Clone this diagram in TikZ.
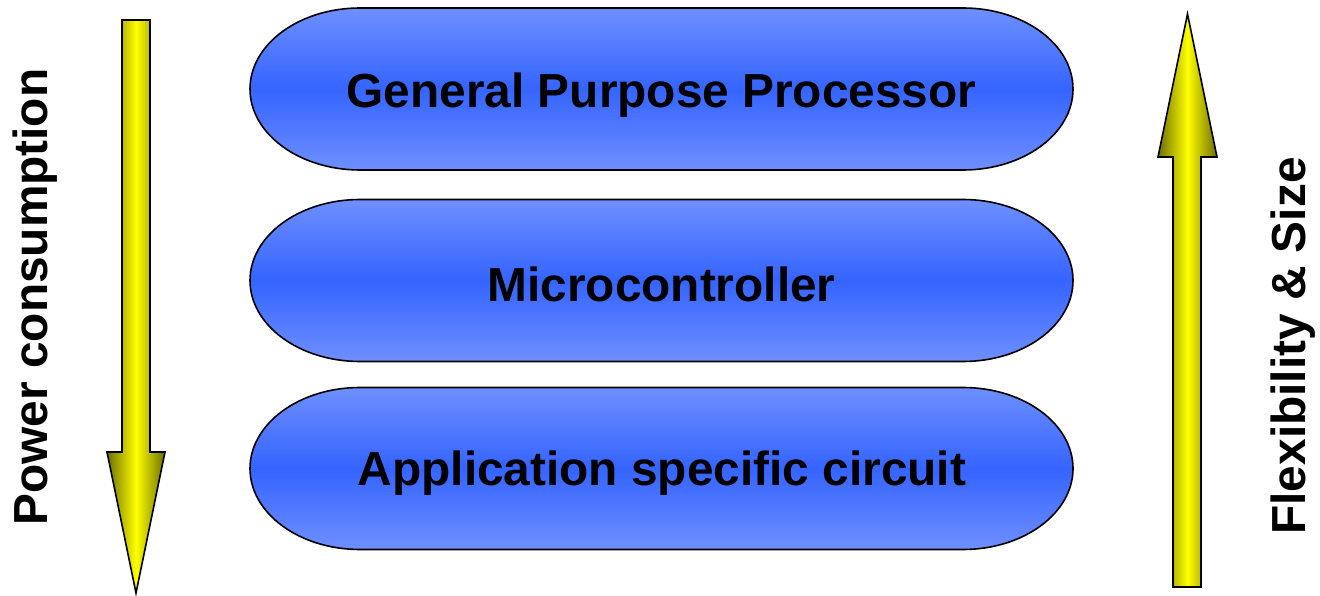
\documentclass[tikz,border=0pt]{standalone}
\usepackage{fontspec}
\setmainfont{Liberation Sans}
\definecolor{blueedge}{HTML}{6E8FFF}
\definecolor{bluemid}{HTML}{3564FF}
\definecolor{olivedark}{HTML}{6E6E00}
\definecolor{yel}{HTML}{FFFF00}
\tikzset{
  stadium/.style={draw=black, line width=1.6pt, top color=blueedge, bottom color=blueedge, middle color=bluemid},
  yarrow/.style={draw=black, line width=1.6pt, line join=miter, left color=olivedark, right color=olivedark, middle color=yel},
  lbl/.style={font=\fontsize{47.8}{50}\selectfont\bfseries, inner sep=0pt},
}
\newcommand{\stadiumpath}[2]{% #1 center y, #2 name
  \path[stadium] (360,#1+81) -- (963,#1+81)
    arc[start angle=90, end angle=-90, x radius=110, y radius=81]
    -- (360,#1-81)
    arc[start angle=270, end angle=90, x radius=110, y radius=81] -- cycle;
}
\begin{document}
\begin{tikzpicture}[x=1pt,y=1pt]
\useasboundingbox (0,0) rectangle (1320,595);
% stadiums
\stadiumpath{506}{gpp}
\stadiumpath{314.5}{mc}
\stadiumpath{126.5}{asc}
\node[lbl] (gpp) at (661.5,500) {General Purpose Processor};
\node[lbl] (mc) at (661.5,311) {Microcontroller};
\node[lbl] (asc) at (662,121.5) {Application specific circuit};
% left arrow (down)
\path[yarrow] (122,575) -- (150,575) -- (150,143) -- (165,143) -- (136,2) -- (107,143) -- (122,143) -- cycle;
% right arrow (up)
\path[yarrow] (1173,8) -- (1201,8) -- (1201,438) -- (1217,438) -- (1187.5,581) -- (1158,438) -- (1173,438) -- cycle;
% side labels
\node[lbl, rotate=90] (power) at (35,298) {Power consumption};
\node[lbl, rotate=90] (flex) at (1293,249) {Flexibility \& Size};
\end{tikzpicture}
\end{document}
